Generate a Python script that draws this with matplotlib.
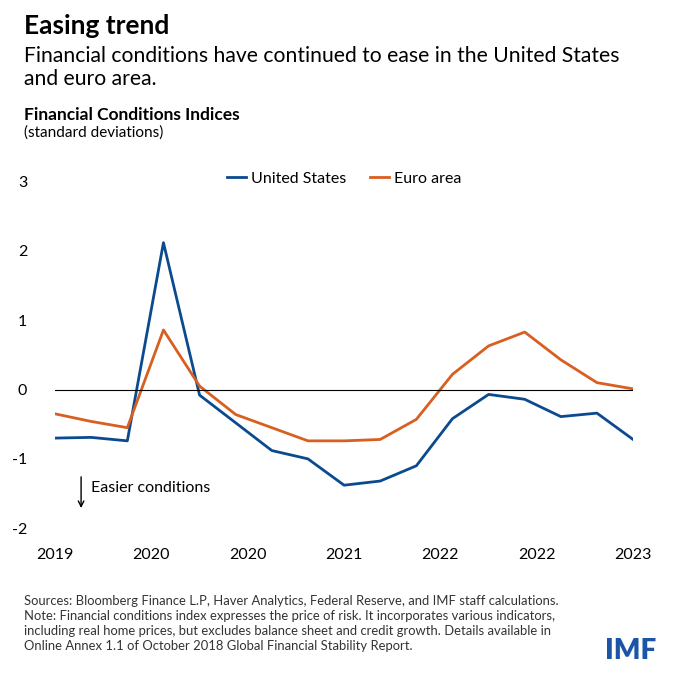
import matplotlib.pyplot as plt
import numpy as np

plt.rcParams['font.family'] = ['Lato', 'DejaVu Sans']

# quarterly observations, 2019 to 2023
united_states = [-0.70, -0.69, -0.74, 2.12, -0.08, -0.48, -0.88, -1.00, -1.38,
                 -1.32, -1.10, -0.42, -0.07, -0.14, -0.39, -0.34, -0.72]
euro_area = [-0.35, -0.46, -0.55, 0.86, 0.05, -0.36, -0.55, -0.74, -0.74,
             -0.72, -0.43, 0.22, 0.63, 0.83, 0.43, 0.10, 0.01]
tick_labels = ["2019", "2020", "2020", "2021", "2022", "2022", "2023"]
y_ticks = [-2, -1, 0, 1, 2, 3]

blue = "#0b4a8f"
orange = "#d95f20"

fig = plt.figure(figsize=(6.8, 6.78), dpi=100)
ax = fig.add_axes([0.081, 0.221, 0.85, 0.511])

x = np.arange(len(united_states))
ax.plot(x, united_states, color=blue, lw=2, label="United States")
ax.plot(x, euro_area, color=orange, lw=2, label="Euro area")
ax.axhline(0, color="black", lw=0.8)

ax.set_xlim(0, len(x) - 1)
ax.set_ylim(-2, 3)
ax.set_yticks(y_ticks)
ax.set_yticklabels([str(v) for v in y_ticks], fontsize=11.5)
ax.set_xticks(np.linspace(0, len(x) - 1, len(tick_labels)))
ax.set_xticklabels(tick_labels, fontsize=11.5)
ax.tick_params(length=0, pad=14)
ax.tick_params(axis="y", pad=20)
for s in ax.spines.values():
    s.set_visible(False)

ax.legend(loc="upper center", bbox_to_anchor=(0.5, 1.07), ncol=2, frameon=False,
          fontsize=11.5, handlelength=1.2, handletextpad=0.3, columnspacing=1.5)

ax.annotate("", xy=(0.72, -1.75), xytext=(0.72, -1.22),
            arrowprops=dict(arrowstyle="->", color="black", lw=1))
ax.text(1.0, -1.42, "Easier conditions", fontsize=11.5, va="center")

fig.text(0.035, 0.962, "Easing trend", fontsize=19, fontweight="bold", va="center")
fig.text(0.035, 0.918, "Financial conditions have continued to ease in the United States",
         fontsize=15.2, va="center")
fig.text(0.035, 0.884, "and euro area.", fontsize=15.2, va="center")
fig.text(0.035, 0.831, "Financial Conditions Indices", fontsize=12.5, fontweight="bold", va="center")
fig.text(0.035, 0.805, "(standard deviations)", fontsize=11, va="center")

notes = ("Sources: Bloomberg Finance L.P, Haver Analytics, Federal Reserve, and IMF staff calculations.\n"
         "Note: Financial conditions index expresses the price of risk. It incorporates various indicators,\n"
         "including real home prices, but excludes balance sheet and credit growth. Details available in\n"
         "Online Annex 1.1 of October 2018 Global Financial Stability Report.")
fig.text(0.035, 0.122, notes, fontsize=9.4, va="top", linespacing=1.3, color="#333333")
fig.text(0.965, 0.04, "IMF", fontsize=20, fontweight="heavy", color="#1b55a5",
         ha="right", va="center")

fig.savefig("out.png")
